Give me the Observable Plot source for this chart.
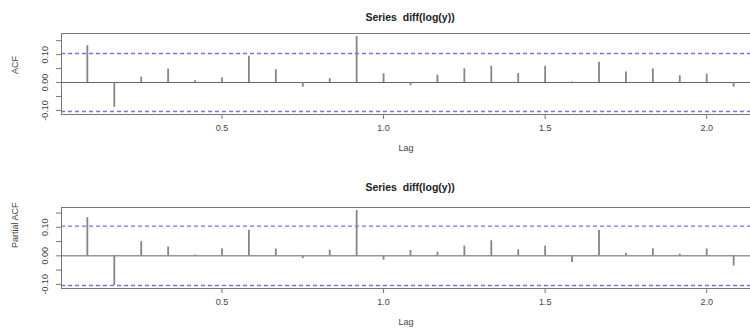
<!DOCTYPE html>
<html>
<head>
<meta charset="utf-8">
<script src="https://cdn.jsdelivr.net/npm/d3@7"></script>
<script src="https://cdn.jsdelivr.net/npm/@observablehq/plot@0.6"></script>
<style>
  html, body { margin: 0; padding: 0; background: #fff; width: 750px; height: 334px; overflow: hidden; }
  #chart svg { display: block; }
</style>
</head>
<body>
<div id="chart"></div>
<script>
// ---- data ----
const title = "Series  diff(log(y))";
const lagIndex = [1,2,3,4,5,6,7,8,9,10,11,12,13,14,15,16,17,18,19,20,21,22,23,24,25]; // months
const acfValues = [0.132, -0.089, 0.019, 0.048, 0.006, 0.016, 0.094, 0.046, -0.017, 0.014, 0.165, 0.031, -0.012,
                   0.026, 0.049, 0.058, 0.032, 0.058, 0.002, 0.073, 0.038, 0.049, 0.024, 0.030, -0.017];
const pacfValues = [0.134, -0.104, 0.050, 0.031, 0.003, 0.025, 0.090, 0.024, -0.010, 0.020, 0.159, -0.015, 0.019,
                    0.013, 0.034, 0.053, 0.021, 0.034, -0.023, 0.089, 0.009, 0.025, 0.006, 0.024, -0.036];
const confLimit = 0.104;
const xTicks = [0.5, 1.0, 1.5, 2.0];
const yTicks = [-0.10, -0.05, 0.00, 0.05, 0.10, 0.15];
const yLabelled = [-0.10, 0.00, 0.10];

const FONT = "'Liberation Sans', Arial, sans-serif";
const TEXT = "#444";
const AXIS = "#777";

function panel(values, ylabel, opts) {
  const data = lagIndex.map((k, i) => ({lag: k / 12, v: values[i]}));
  const lags = data.map(d => d.lag);
  const lo = Math.min(-confLimit, d3.min(values)), hi = Math.max(confLimit, d3.max(values));
  const pad = 0.04 * (hi - lo);
  const xlo = d3.min(lags), xhi = d3.max(lags), xpad = 0.04 * (xhi - xlo);
  return Plot.plot({
    width: 750,
    height: 167,
    marginLeft: 61,
    marginRight: 0,
    marginTop: opts.marginTop,
    marginBottom: opts.marginBottom,
    style: {fontFamily: FONT, fontSize: "9px", color: TEXT, background: "#fff"},
    x: {domain: [xlo - xpad, xhi + xpad], range: [61, 759]},
    y: {domain: [lo - pad, hi + pad]},
    marks: [
      Plot.ruleY([0], {stroke: "#666", strokeWidth: 1}),
      Plot.ruleX(data, {x: "lag", y1: 0, y2: "v", stroke: "#858585", strokeWidth: 1.8}),
      Plot.ruleY([confLimit, -confLimit], {stroke: "#7272ff", strokeWidth: 1.3, strokeDasharray: "4,3"}),
      Plot.frame({stroke: AXIS, strokeWidth: 1}),
      Plot.axisX({ticks: xTicks, tickFormat: d => d.toFixed(1), tickSize: 5, tickPadding: 5,
                  label: null, stroke: AXIS, fill: TEXT, fontSize: 9}),
      Plot.axisY({ticks: yTicks, tickFormat: d => yLabelled.some(t => Math.abs(t - d) < 1e-9) ? d.toFixed(2) : "",
                  tickRotate: -90, tickSize: 5, tickPadding: 9, label: null, stroke: AXIS, fill: TEXT, fontSize: 9}),
      Plot.text([title], {frameAnchor: "top", dy: opts.titleDy, dx: 4, fontWeight: "bold", fontSize: 10.5, fill: "#222"}),
      Plot.text(["Lag"], {frameAnchor: "bottom", dy: 36, fontSize: 9, fill: TEXT}),
      Plot.text([ylabel], {frameAnchor: "left", dx: -46, rotate: -90, fontSize: 9, fill: TEXT})
    ]
  });
}

const root = document.getElementById("chart");
root.appendChild(panel(acfValues, "ACF", {marginTop: 33, marginBottom: 53, titleDy: -20}));
root.appendChild(panel(pacfValues, "Partial ACF", {marginTop: 40, marginBottom: 46, titleDy: -24}));
</script>
</body>
</html>
